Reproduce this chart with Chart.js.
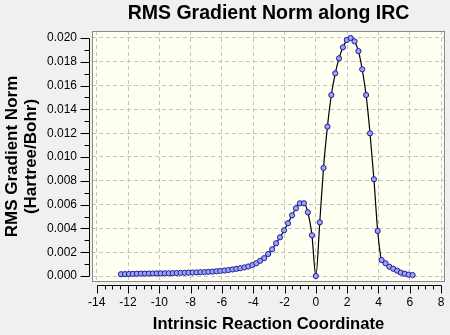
<!DOCTYPE html>
<html>
<head>
<meta charset="utf-8">
<title>RMS Gradient Norm along IRC</title>
<script src="https://cdn.jsdelivr.net/npm/chart.js@4/dist/chart.umd.min.js"></script>
<style>
  html, body { margin: 0; padding: 0; background: #f0f0f0; }
  canvas { display: block; }
</style>
</head>
<body>
<canvas id="ircChart" width="450" height="335"></canvas>
<script>
// IRC path: reaction coordinate and RMS gradient at each step
const coord = [
  -12.45, -12.19, -11.94, -11.69, -11.43, -11.18, -10.92, -10.67, -10.41, -10.16,
  -9.91, -9.65, -9.40, -9.14, -8.89, -8.64, -8.38, -8.13, -7.87, -7.62,
  -7.37, -7.11, -6.86, -6.60, -6.35, -6.10, -5.84, -5.59, -5.33, -5.08,
  -4.83, -4.57, -4.32, -4.06, -3.81, -3.56, -3.30, -3.05, -2.79, -2.54,
  -2.29, -2.03, -1.78, -1.52, -1.27, -1.02, -0.76, -0.51, -0.25, 0,
  0.25, 0.49, 0.74, 0.99, 1.24, 1.48, 1.73, 1.98, 2.22, 2.47,
  2.72, 2.96, 3.21, 3.46, 3.71, 3.95, 4.20, 4.45, 4.69, 4.94,
  5.19, 5.43, 5.68, 5.93, 6.18
];
const gradNorm = [
  0.00015, 0.00016, 0.00017, 0.00018, 0.00019, 0.00020, 0.00020, 0.00021, 0.00021, 0.00022,
  0.00022, 0.00023, 0.00023, 0.00024, 0.00025, 0.00026, 0.00027, 0.00028, 0.00029, 0.00030,
  0.00032, 0.00033, 0.00035, 0.00037, 0.00040, 0.00043, 0.00046, 0.00050, 0.00055, 0.00060,
  0.00065, 0.00072, 0.00080, 0.00092, 0.00107, 0.00128, 0.00150, 0.00185, 0.00224, 0.00275,
  0.00325, 0.00384, 0.00443, 0.00510, 0.00569, 0.00611, 0.00611, 0.00535, 0.00342, 0.00000,
  0.00451, 0.00908, 0.01255, 0.01521, 0.01703, 0.01829, 0.01922, 0.01983, 0.02000, 0.01972,
  0.01890, 0.01737, 0.01521, 0.01199, 0.00813, 0.00378, 0.00134, 0.00107, 0.00078, 0.00061,
  0.00045, 0.00028, 0.00019, 0.00011, 0.00008
];

const xTicks = [-14, -12, -10, -8, -6, -4, -2, 0, 2, 4, 6, 8];
const yTicks = [0, 0.002, 0.004, 0.006, 0.008, 0.010, 0.012, 0.014, 0.016, 0.018, 0.020];

const FONT = "'Liberation Sans', Arial, sans-serif";

// frame, detached axis lines and tick marks (gridlines come from chart.js)
const plotFrame = {
  id: "plotFrame",
  beforeDraw(chart) {
    const { ctx, chartArea: a } = chart;
    ctx.save();
    ctx.fillStyle = "#f0f0f0";
    ctx.fillRect(0, 0, chart.width, chart.height);
    ctx.fillStyle = "#fffff2";
    ctx.fillRect(a.left, a.top, a.right - a.left, a.bottom - a.top);
    ctx.restore();
  },
  afterDraw(chart) {
    const { ctx, chartArea: a, scales: { x, y } } = chart;
    ctx.save();
    ctx.strokeStyle = "#8a8a8a";
    ctx.lineWidth = 1;
    ctx.strokeRect(a.left + 0.5, a.top + 0.5, a.right - a.left - 1, a.bottom - a.top - 1);

    ctx.strokeStyle = "#000";
    ctx.beginPath();
    // y axis, left of the frame
    const ax = a.left - 2.5;
    const y0 = y.getPixelForValue(yTicks[0]);
    const y1 = y.getPixelForValue(yTicks[yTicks.length - 1]);
    ctx.moveTo(ax, Math.round(y0) + 0.5);
    ctx.lineTo(ax, Math.round(y1) + 0.5);
    yTicks.forEach((v, i) => {
      const py = Math.round(y.getPixelForValue(v)) + 0.5;
      ctx.moveTo(ax, py); ctx.lineTo(ax - 9, py);
      if (i < yTicks.length - 1) {
        const pm = Math.round(y.getPixelForValue((v + yTicks[i + 1]) / 2)) + 0.5;
        ctx.moveTo(ax, pm); ctx.lineTo(ax - 5, pm);
      }
    });
    // x axis, below the frame
    const ay = a.bottom + 3.5;
    const x0 = x.getPixelForValue(xTicks[0]);
    const x1 = x.getPixelForValue(xTicks[xTicks.length - 1]);
    ctx.moveTo(Math.round(x0) + 0.5, ay);
    ctx.lineTo(Math.round(x1) + 0.5, ay);
    xTicks.forEach((v, i) => {
      const px = Math.round(x.getPixelForValue(v)) + 0.5;
      ctx.moveTo(px, ay); ctx.lineTo(px, ay + 8);
      if (i < xTicks.length - 1) {
        const step = (xTicks[i + 1] - v) / 4;
        for (let k = 1; k < 4; k++) {
          const pm = Math.round(x.getPixelForValue(v + k * step)) + 0.5;
          ctx.moveTo(pm, ay); ctx.lineTo(pm, ay + 4);
        }
      }
    });
    ctx.stroke();
    ctx.restore();
  }
};

new Chart(document.getElementById("ircChart"), {
  type: "line",
  data: {
    datasets: [{
      data: coord.map((c, i) => ({ x: c, y: gradNorm[i] })),
      borderColor: "#000",
      borderWidth: 1.2,
      cubicInterpolationMode: "monotone",
      pointRadius: 2.6,
      pointBorderWidth: 1,
      pointBackgroundColor: "#9ea4f2",
      pointBorderColor: "#1c1ca0",
      fill: false
    }]
  },
  options: {
    responsive: false,
    animation: false,
    devicePixelRatio: 1,
    layout: { padding: { left: 0, right: 2, top: 0, bottom: 0 } },
    plugins: {
      legend: { display: false },
      tooltip: { enabled: false },
      title: {
        display: true,
        fullSize: false,
        text: "RMS Gradient Norm along IRC",
        color: "#000",
        font: { family: FONT, size: 19.5, weight: "bold", lineHeight: 1.2 },
        padding: { top: 1.5, bottom: 6.1 }
      }
    },
    scales: {
      x: {
        type: "linear",
        min: -14.30,
        max: 8.25,
        afterBuildTicks: s => { s.ticks = xTicks.map(v => ({ value: v })); },
        afterFit: s => { s.height = 53; s.paddingLeft = 0; s.paddingRight = 0; },
        ticks: {
          autoSkip: false,
          maxRotation: 0,
          padding: 13,
          color: "#000",
          font: { family: FONT, size: 12 },
          callback: v => String(v)
        },
        grid: { color: "#c4c4c4", lineWidth: 1, drawTicks: false },
        border: { display: false, dash: [4, 3] },
        title: {
          display: true,
          text: "Intrinsic Reaction Coordinate",
          color: "#000",
          font: { family: FONT, size: 16.6, weight: "bold", lineHeight: 1.2 },
          padding: { top: 0, bottom: 0.3 }
        }
      },
      y: {
        type: "linear",
        min: -0.000504,
        max: 0.020588,
        afterBuildTicks: s => { s.ticks = yTicks.map(v => ({ value: v })); },
        afterFit: s => { s.width = 92; },
        ticks: {
          autoSkip: false,
          padding: 15,
          color: "#000",
          font: { family: FONT, size: 12 },
          callback: v => v.toFixed(3)
        },
        grid: { color: "#c4c4c4", lineWidth: 1, drawTicks: false },
        border: { display: false, dash: [4, 3] },
        title: {
          display: true,
          text: ["RMS Gradient Norm", "(Hartree/Bohr)"],
          color: "#000",
          font: { family: FONT, size: 17, weight: "bold", lineHeight: 1.1 },
          padding: { top: 3.2, bottom: 0 }
        }
      }
    }
  },
  plugins: [plotFrame]
});
</script>
</body>
</html>
